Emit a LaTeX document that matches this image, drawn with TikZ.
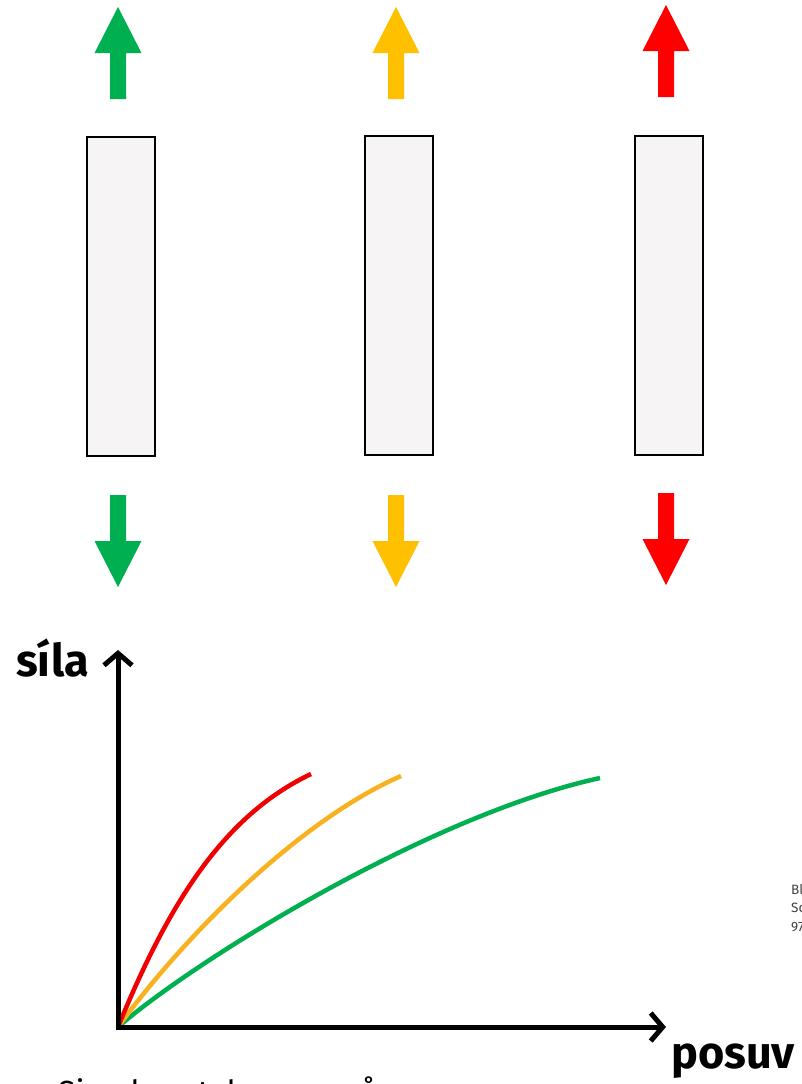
\documentclass[tikz,border=0pt]{standalone}
\usepackage{fontspec}
\setmainfont{Fira Sans}
\usetikzlibrary{arrows.meta, positioning}
\definecolor{fgreen}{HTML}{00B050}
\definecolor{fyellow}{HTML}{FFC000}
\definecolor{fred}{HTML}{FF0000}
\definecolor{corange}{HTML}{F9B21F}
\definecolor{cred}{HTML}{F00000}
\definecolor{barfill}{HTML}{F6F4F5}
\tikzset{%
	bar/.style={draw, rectangle, line width=2.5pt, fill=barfill,%
		minimum width=68pt, minimum height=319pt, inner sep=0pt},
	axis/.style={line width=5pt, line join=miter,%
		{Straight Barb[length=12pt, width=28pt]}-{Straight Barb[length=12pt, width=28pt]}},
	curve/.style={line width=4.5pt},
	big/.style={font=\fontsize{45}{52}\selectfont\bfseries, inner sep=0pt},
	note/.style={font=\fontsize{13.5}{18.5}\selectfont, text=black!75, inner sep=0pt, align=left}
}

\begin{document}
\begin{tikzpicture}[x=1pt, y=-1pt]
	\clip (0,0) rectangle (802,1084);
	\fill[white] (0,0) rectangle (802,1084);

	% the three samples
	\node[bar] (b1) at (121,296.5) {};
	\node[bar] (b2) at (399,295.5) {};
	\node[bar] (b3) at (669,295.5) {};

	% pulling forces above and below each sample
	\foreach \x/\t/\c in {118/7/fgreen, 396/7/fyellow, 666/5/fred} {
		\fill[\c] (\x,\t) -- ++(23.5,46) -- ++(-15.5,0) -- ++(0,46) -- ++(-16,0)
			-- ++(0,-46) -- ++(-15.5,0) -- cycle;
		\fill[\c] (\x,\t+580) -- ++(23.5,-46) -- ++(-15.5,0) -- ++(0,-46) -- ++(-16,0)
			-- ++(0,46) -- ++(-15.5,0) -- cycle;
	}

	% force--displacement plot
	\coordinate (O) at (118,1027);
	\coordinate (ytop) at (118,650);
	\coordinate (xend) at (666,1027);
	\coordinate (r) at (311,774);
	\coordinate (o) at (401,776);
	\coordinate (g) at (600,778);

	\draw[curve, fgreen] (O) .. controls (195,960) and (430,815) .. (g);
	\draw[curve, corange] (O) .. controls (185,935) and (300,820) .. (o);
	\draw[curve, cred] (O) .. controls (170,900) and (225,815) .. (r);
	\draw[axis] (ytop) -- (O) -- (xend);

	\node[big, anchor=base west] (fl) at (16,676) {síla};
	\node[big, anchor=base west] (dl) at (671,1068) {posuv};

	\node[note, anchor=north west] (src) at (791,884) {Bl\\Sc\\97};
	\node[anchor=base west, inner sep=0pt, font=\fontsize{32}{38}\selectfont] (cap)
		at (58,1103) {Simulace tahem vzorů};
\end{tikzpicture}
\end{document}
